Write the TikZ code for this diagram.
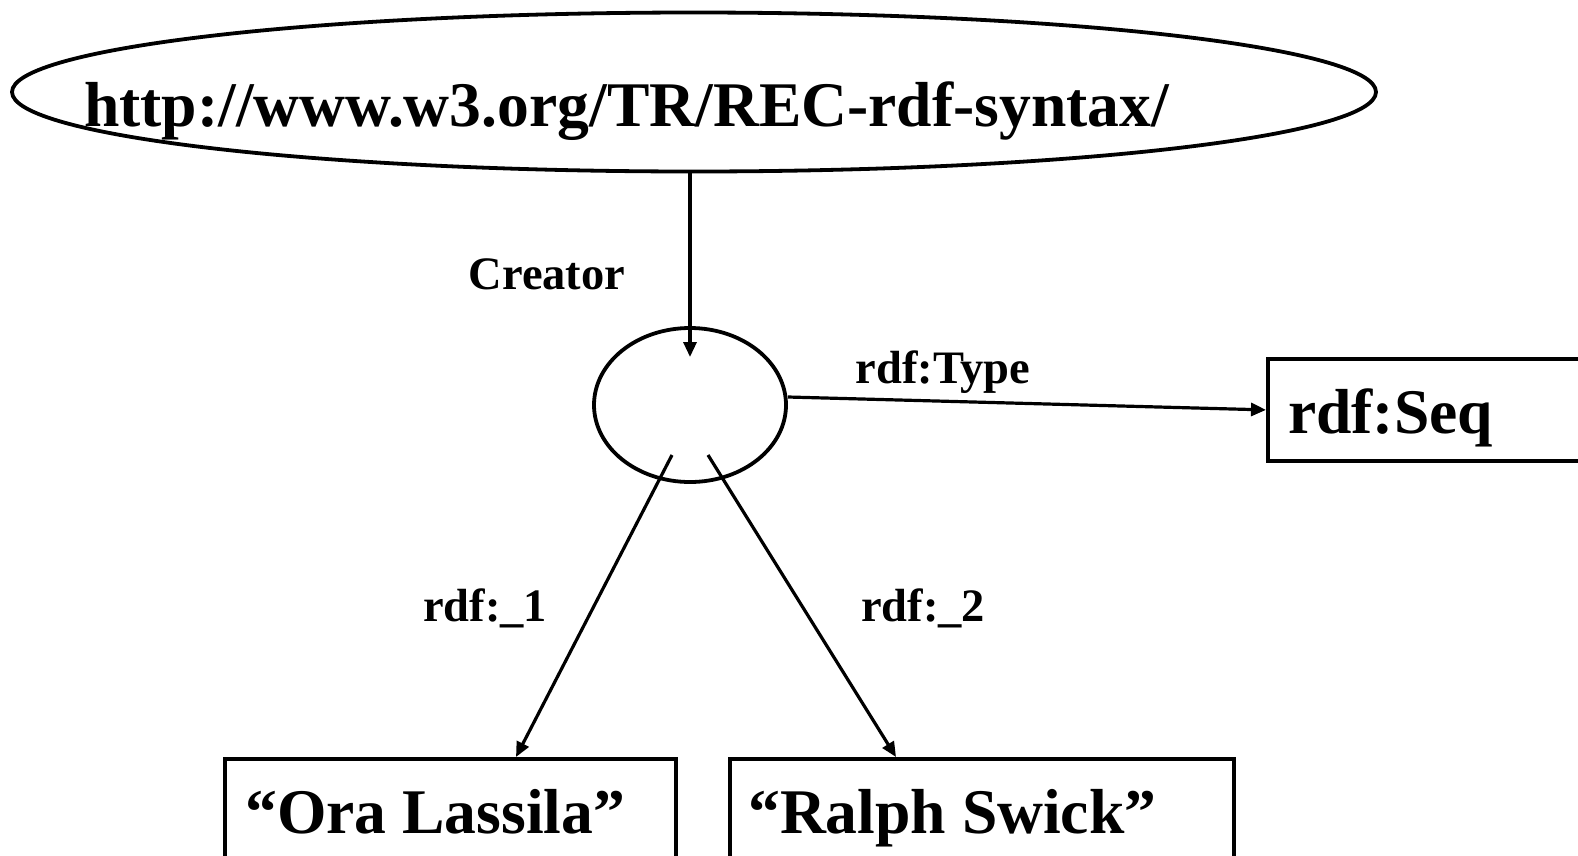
\documentclass[tikz,border=0pt]{standalone}
\usepackage{fontspec}
\setmainfont{Liberation Serif}
\usetikzlibrary{arrows.meta,shapes.geometric}
\begin{document}
\begin{tikzpicture}[x=1pt,y=-1pt,
  bigtxt/.style={inner sep=0pt,font=\fontsize{63.6}{70}\selectfont\bfseries},
  smalltxt/.style={inner sep=0pt,font=\fontsize{46.5}{52}\selectfont\bfseries},
  shapeline/.style={draw=black,line width=3.8pt},
  arr/.style={draw=black,line width=3.2pt,-{Triangle[length=15pt,width=13pt]}}]
\useasboundingbox (0,0) rectangle (1578,855);
\clip (0,0) rectangle (1578,855);
% top resource
\node[shapeline,ellipse,inner sep=0pt,minimum width=1364pt,minimum height=159pt] (uri) at (694,92) {};
\node[bigtxt,anchor=base west] (uritext) at (84,126) {http://www.w3.org/TR/REC-rdf-syntax/};
% blank node
\node[shapeline,ellipse,inner sep=0pt,minimum width=192pt,minimum height=154pt] (blank) at (690,405) {};
\coordinate (ctip) at (690,357);
\coordinate (s1) at (672,455);
\coordinate (s2) at (708,455);
% rdf:Seq
\node[shapeline,rectangle,inner sep=0pt,anchor=north west,minimum width=450pt,minimum height=102pt] (seq) at (1266,357) {};
\node[bigtxt,anchor=base west] (seqtext) at (1288,433) {rdf:Seq};
% literals
\node[shapeline,rectangle,inner sep=0pt,anchor=north west,minimum width=451pt,minimum height=150pt] (ora) at (223,757) {};
\node[bigtxt,anchor=base west] (oratext) at (245,833) {“Ora Lassila”};
\node[shapeline,rectangle,inner sep=0pt,anchor=north west,minimum width=504pt,minimum height=150pt] (ralph) at (728,757) {};
\node[bigtxt,anchor=base west] (ralphtext) at (748,833) {“Ralph Swick”};
% connectors
\draw[arr] (uri.south -| ctip) -- (ctip);
\draw[arr] ([yshift=8pt]blank.east) -- (seq.west);
\draw[arr] (s1) -- (ora.north -| 516,0);
\draw[arr] (s2) -- (ralph.north -| 896,0);
% labels
\node[smalltxt,anchor=base] (lcreator) at (547,289) {Creator};
\node[smalltxt,anchor=base] (ltype) at (943,383) {rdf:Type};
\node[smalltxt,anchor=base] (l1) at (485,621) {rdf:\_1};
\node[smalltxt,anchor=base] (l2) at (923,621) {rdf:\_2};
\end{tikzpicture}
\end{document}
